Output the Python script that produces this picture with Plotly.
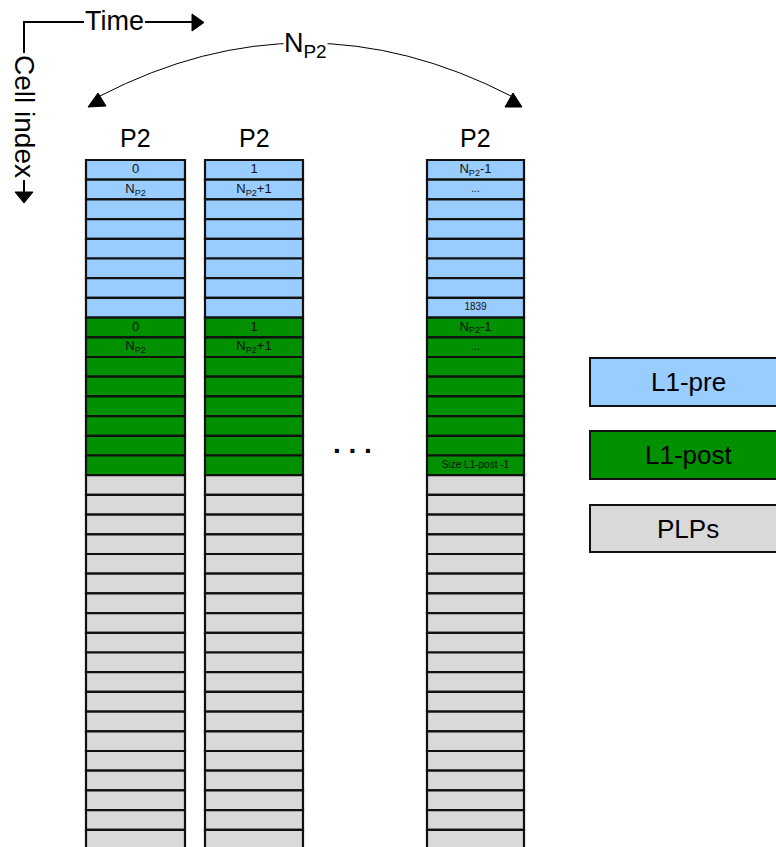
import plotly.graph_objects as go

# ---- data ----
column_titles = ["P2", "P2", "P2"]
sections = ["L1-pre", "L1-post", "PLPs"]
section_rows = [8, 8, 19]
pre_labels = [
    ["0", "N<sub>P2</sub>", "", "", "", "", "", ""],
    ["1", "N<sub>P2</sub>+1", "", "", "", "", "", ""],
    ["N<sub>P2</sub>-1", "...", "", "", "", "", "", "1839"],
]
post_labels = [
    ["0", "N<sub>P2</sub>", "", "", "", "", "", ""],
    ["1", "N<sub>P2</sub>+1", "", "", "", "", "", ""],
    ["N<sub>P2</sub>-1", "...", "", "", "", "", "", "Size L1-post -1"],
]
legend_labels = ["L1-pre", "L1-post", "PLPs"]

# ---- style / layout constants ----
W, H = 776, 847
colors = {"L1-pre": "#99CCFF", "L1-post": "#009000", "PLPs": "#D9D9D9"}
col_x = [(86, 185), (205, 303), (427, 524)]
top, row_h = 160, 19.7
font = "Liberation Sans, Arial, sans-serif"

fig = go.Figure()
shapes = []
annots = []
tx, ty, tt, ts = [], [], [], []

for c, (x0, x1) in enumerate(col_x):
    r = 0
    for s, n in zip(sections, section_rows):
        for k in range(n):
            y0 = top + r * row_h
            shapes.append(dict(type="rect", xref="x", yref="y", x0=x0, x1=x1, y0=y0, y1=y0 + row_h,
                               fillcolor=colors[s], line=dict(color="#111", width=2.2), layer="below"))
            lab = ""
            if s == "L1-pre":
                lab = pre_labels[c][k]
            elif s == "L1-post":
                lab = post_labels[c][k]
            if lab:
                tx.append((x0 + x1) / 2)
                ty.append(y0 + row_h / 2)
                tt.append(lab)
                ts.append(10 if lab in ("1839", "Size L1-post -1", "...") else 13)
            r += 1
    annots.append(dict(x=(x0 + x1) / 2, y=138, text=column_titles[c], showarrow=False, xref="x", yref="y",
                       font=dict(family=font, size=25, color="#000")))

fig.add_trace(go.Scatter(x=tx, y=ty, text=tt, mode="text", textposition="middle center",
                         textfont=dict(family=font, size=ts, color="#111"), hoverinfo="skip"))

# legend boxes
leg_y = [(358, 406), (431, 479), (505, 552)]
for lab, (y0, y1) in zip(legend_labels, leg_y):
    shapes.append(dict(type="rect", xref="x", yref="y", x0=590, x1=786, y0=y0, y1=y1,
                       fillcolor=colors[lab], line=dict(color="#111", width=2), layer="below"))
    annots.append(dict(x=688, y=(y0 + y1) / 2, text=lab, showarrow=False, xref="x", yref="y",
                       font=dict(family=font, size=26, color="#000")))

# ellipsis between columns
annots.append(dict(x=352, y=443, text="<b>. . .</b>", showarrow=False, xref="x", yref="y",
                   font=dict(family=font, size=28, color="#000")))

# Time / Cell index axes indicator
shapes.append(dict(type="path", xref="x", yref="y", path="M 24 53 L 24 22 L 84 22",
                   line=dict(color="#000", width=2)))
shapes.append(dict(type="line", xref="x", yref="y", x0=145, x1=194, y0=22, y1=22,
                   line=dict(color="#000", width=2)))
shapes.append(dict(type="path", xref="x", yref="y", path="M 192 14 L 204 22.5 L 192 31 Z",
                   fillcolor="#000", line=dict(color="#000", width=1)))
shapes.append(dict(type="line", xref="x", yref="y", x0=24, x1=24, y0=180, y1=194,
                   line=dict(color="#000", width=2)))
shapes.append(dict(type="path", xref="x", yref="y", path="M 15 192 L 33 192 L 24 203 Z",
                   fillcolor="#000", line=dict(color="#000", width=1)))
annots.append(dict(x=114.5, y=21, text="Time", showarrow=False, xref="x", yref="y",
                   font=dict(family=font, size=27, color="#000")))
annots.append(dict(x=25, y=116, text="Cell index", showarrow=False, xref="x", yref="y", textangle=90,
                   font=dict(family=font, size=28, color="#000")))

# N_P2 arc
shapes.append(dict(type="path", xref="x", yref="y", path="M 100 96 Q 305 -10 511 96",
                   line=dict(color="#000", width=1)))
shapes.append(dict(type="path", xref="x", yref="y", path="M 98 93 L 88 107 L 106 106 Z",
                   fillcolor="#000", line=dict(color="#000", width=1)))
shapes.append(dict(type="path", xref="x", yref="y", path="M 513 93 L 505 107 L 522 107 Z",
                   fillcolor="#000", line=dict(color="#000", width=1)))
annots.append(dict(x=305, y=45, text="N<sub>P2</sub>", showarrow=False, xref="x", yref="y",
                   bgcolor="#fff", borderpad=0, font=dict(family=font, size=27, color="#000")))

fig.update_layout(
    width=W, height=H, margin=dict(l=0, r=0, t=0, b=0),
    paper_bgcolor="#fff", plot_bgcolor="rgba(0,0,0,0)",
    xaxis=dict(range=[0, W], visible=False, fixedrange=True),
    yaxis=dict(range=[H, 0], visible=False, fixedrange=True),
    shapes=shapes, annotations=annots, showlegend=False,
)
fig.write_html("out.html", config={"displayModeBar": False},
               post_script="document.body.style.margin='0';")
